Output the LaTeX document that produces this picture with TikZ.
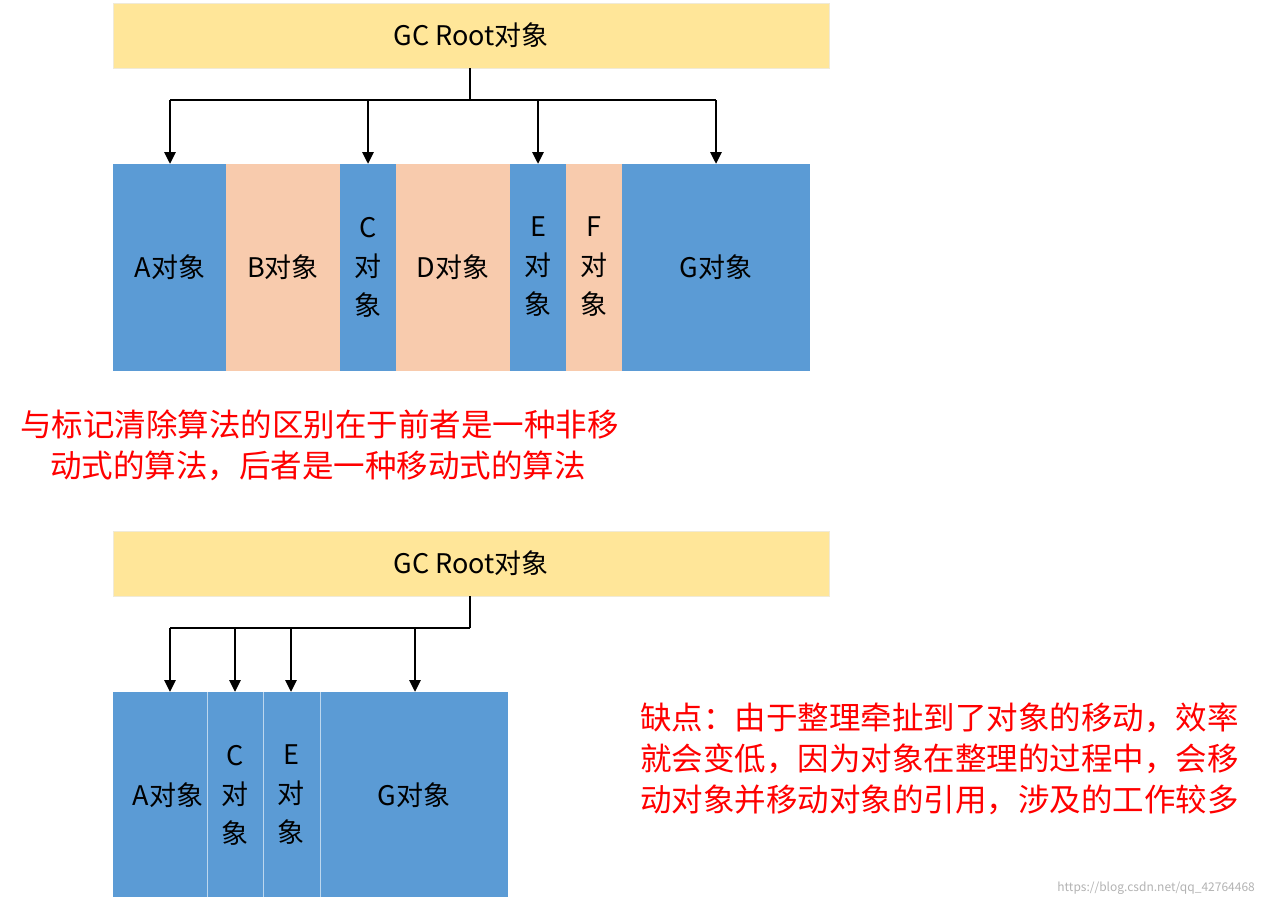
\documentclass[tikz,border=0pt]{standalone}
\usepackage{fontspec}
\setmainfont{Noto Sans CJK SC}
\usetikzlibrary{arrows.meta}
\definecolor{gcy}{HTML}{FFE699}
\definecolor{blu}{HTML}{5B9BD5}
\definecolor{pch}{HTML}{F8CBAD}
\definecolor{red1}{HTML}{FF0000}
\begin{document}
\begin{tikzpicture}[x=1pt,y=-1pt,
 gc/.style={fill=gcy,draw=gcy!80!black!30,font=\fontsize{27}{30}\selectfont},
 blk/.style={font=\fontsize{27}{39}\selectfont,align=center},
 arr/.style={line width=2.8pt,-{Triangle[length=12pt,width=11pt]}},
 ln/.style={line width=2.8pt},
 note/.style={text=red1,font=\fontsize{31.5}{41}\selectfont,align=left,anchor=north west,inner sep=0}]
\useasboundingbox (0,0) rectangle (1263,907);
% top
\node[gc,minimum width=716pt,minimum height=65pt,inner sep=0] (gc1) at (471,35.5) {GC Root对象};
\foreach \n/\a/\b/\c in {A/113/226/blu,B/226/340/pch,C/340/396/blu,D/396/510/pch,E/510/566/blu,F/566/622/pch,G/622/810/blu}{
  \fill[\c] (\a,164) rectangle (\b,371);
  \coordinate (t\n) at ({(\a+\b)/2},164);
}
\node[blk] (lA) at (170,267) {A对象};
\node[blk] (lB) at (283,267) {B对象};
\node[blk] (lC) at (368,267) {C\\对\\象};
\node[blk] (lD) at (453,267) {D对象};
\node[blk] (lE) at (538,267) {E\\对\\象};
\node[blk] (lF) at (594,267) {F\\对\\象};
\node[blk] (lG) at (716,267) {G对象};
\coordinate (j1) at (470,100);
\draw[ln] (gc1.south -| j1) -- (j1);
\draw[ln] (170,100) -- (716,100);
\coordinate (a1) at (170,164); \coordinate (c1) at (368,164);
\coordinate (e1) at (538,164); \coordinate (g1) at (716,164);
\foreach \p in {a1,c1,e1,g1} \draw[arr] (\p |- j1) -- (\p);
\node[note] (n1) at (20,410) {与标记清除算法的区别在于前者是一种非移\\\hspace*{30pt}动式的算法，后者是一种移动式的算法};
% bottom
\node[gc,minimum width=716pt,minimum height=65pt,inner sep=0] (gc2) at (471,563.5) {GC Root对象};
\foreach \a/\b in {113/207,207/263,263/320,320/508}{
  \fill[blu] (\a,692) rectangle (\b,897);
}
\foreach \x in {207,263,320} \draw[blu!40!white,line width=0.8pt] (\x,692) -- (\x,897);
\node[blk] (mA) at (168,795) {A对象};
\node[blk] (mC) at (235,795) {C\\对\\象};
\node[blk] (mE) at (291,795) {E\\对\\象};
\node[blk] (mG) at (414,795) {G对象};
\coordinate (j2) at (470,628);
\draw[ln] (gc2.south -| j2) -- (j2);
\draw[ln] (170,628) -- (470,628);
\coordinate (a2) at (170,692); \coordinate (c2) at (235,692);
\coordinate (e2) at (291,692); \coordinate (g2) at (415,692);
\foreach \p in {a2,c2,e2,g2} \draw[arr] (\p |- j2) -- (\p);
\node[note] (n2) at (640,703) {缺点：由于整理牵扯到了对象的移动，效率\\就会变低，因为对象在整理的过程中，会移\\动对象并移动对象的引用，涉及的工作较多};
\node[anchor=east,text=gray!60,font=\fontsize{12}{14}\selectfont,inner sep=0] (wm) at (1255,888) {https://blog.csdn.net/qq\_42764468};
\end{tikzpicture}
\end{document}
